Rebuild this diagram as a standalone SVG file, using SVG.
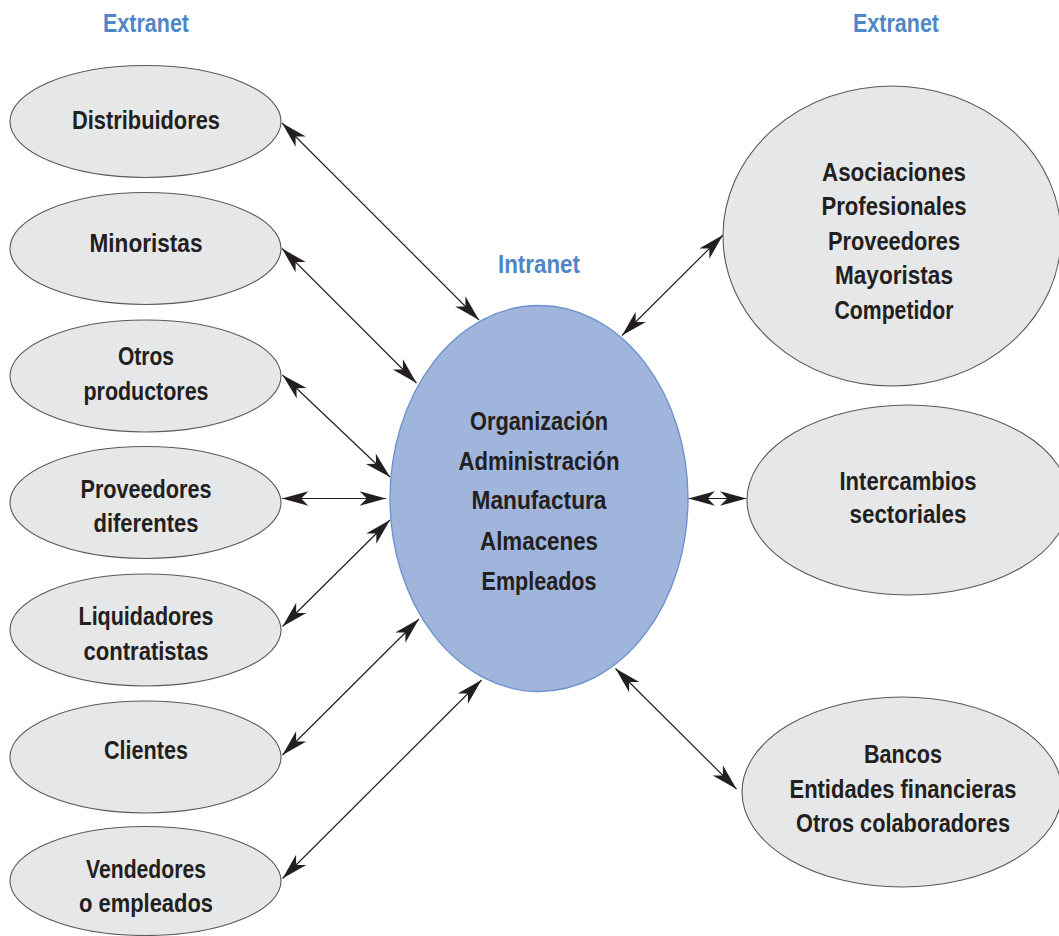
<svg xmlns="http://www.w3.org/2000/svg" width="1059" height="936" viewBox="0 0 1059 936">
<style>
.bg{fill:#ffffff}
.ext{fill:#e6e7e8;stroke:#58595b;stroke-width:1.1}
.core{fill:#a0b5dc;stroke:#6b90cb;stroke-width:1.3}
.t{font-family:"Liberation Sans",Arial,sans-serif;font-weight:bold;font-size:25px;fill:#231f20;text-anchor:middle}
.h{font-family:"Liberation Sans",Arial,sans-serif;font-weight:bold;font-size:25px;fill:#4f86c6;text-anchor:middle}
.c{stroke:#231f20;stroke-width:1.2;fill:none;marker-start:url(#ah);marker-end:url(#ah)}
</style>
<defs>
<marker id="ah" markerUnits="userSpaceOnUse" markerWidth="30" markerHeight="20" viewBox="-23 -8 25 16" refX="0" refY="0" orient="auto-start-reverse">
<path d="M0,0 L-22,-6 L-16,0 L-22,6 Z" fill="#231f20"/>
</marker>
</defs>
<rect class="bg" x="0" y="0" width="1059" height="936"/>

<g id="labels">
<text class="h" x="146" y="31.5" textLength="86" lengthAdjust="spacingAndGlyphs">Extranet</text>
<text class="h" x="896" y="31.5" textLength="86" lengthAdjust="spacingAndGlyphs">Extranet</text>
<text class="h" x="539" y="273" textLength="82" lengthAdjust="spacingAndGlyphs">Intranet</text>
</g>

<g id="connectors">
<line class="c" x1="282" y1="123" x2="479" y2="320"/>
<line class="c" x1="282" y1="248.5" x2="416.5" y2="383"/>
<line class="c" x1="282.5" y1="375" x2="390" y2="477"/>
<line class="c" x1="282" y1="498.5" x2="386" y2="498.5"/>
<line class="c" x1="282.5" y1="626.5" x2="390" y2="520"/>
<line class="c" x1="282.5" y1="755" x2="419" y2="619"/>
<line class="c" x1="282.5" y1="878.5" x2="481.5" y2="680"/>
<line class="c" x1="622" y1="335.5" x2="723" y2="235"/>
<line class="c" x1="688.5" y1="498.5" x2="746.5" y2="498.5"/>
<line class="c" x1="615.5" y1="668.5" x2="736.5" y2="789"/>
</g>

<g id="intranet">
<ellipse class="core" cx="539" cy="498.5" rx="149" ry="193"/>
<text class="t" x="539" y="429.5" textLength="138" lengthAdjust="spacingAndGlyphs">Organización</text>
<text class="t" x="539" y="469.5" textLength="161" lengthAdjust="spacingAndGlyphs">Administración</text>
<text class="t" x="539" y="508.5" textLength="135" lengthAdjust="spacingAndGlyphs">Manufactura</text>
<text class="t" x="539" y="549.5" textLength="118" lengthAdjust="spacingAndGlyphs">Almacenes</text>
<text class="t" x="539" y="589.5" textLength="115" lengthAdjust="spacingAndGlyphs">Empleados</text>
</g>

<g id="distribuidores">
<ellipse class="ext" cx="145.5" cy="121.5" rx="135.5" ry="56"/>
<text class="t" x="146" y="129" textLength="148" lengthAdjust="spacingAndGlyphs">Distribuidores</text>
</g>
<g id="minoristas">
<ellipse class="ext" cx="145.5" cy="248.5" rx="135.5" ry="56"/>
<text class="t" x="146" y="252" textLength="113" lengthAdjust="spacingAndGlyphs">Minoristas</text>
</g>
<g id="otros-productores">
<ellipse class="ext" cx="145.5" cy="376" rx="135.5" ry="56"/>
<text class="t" x="146" y="365" textLength="56" lengthAdjust="spacingAndGlyphs">Otros</text>
<text class="t" x="146" y="400" textLength="125" lengthAdjust="spacingAndGlyphs">productores</text>
</g>
<g id="proveedores-diferentes">
<ellipse class="ext" cx="145.5" cy="502.5" rx="135.5" ry="56"/>
<text class="t" x="146" y="498" textLength="131" lengthAdjust="spacingAndGlyphs">Proveedores</text>
<text class="t" x="146" y="532" textLength="105" lengthAdjust="spacingAndGlyphs">diferentes</text>
</g>
<g id="liquidadores">
<ellipse class="ext" cx="145.5" cy="630" rx="135.5" ry="56"/>
<text class="t" x="146" y="625" textLength="135" lengthAdjust="spacingAndGlyphs">Liquidadores</text>
<text class="t" x="146" y="660" textLength="125" lengthAdjust="spacingAndGlyphs">contratistas</text>
</g>
<g id="clientes">
<ellipse class="ext" cx="145.5" cy="757" rx="135.5" ry="56"/>
<text class="t" x="146" y="759" textLength="84" lengthAdjust="spacingAndGlyphs">Clientes</text>
</g>
<g id="vendedores">
<ellipse class="ext" cx="145.5" cy="881" rx="135.5" ry="54.5"/>
<text class="t" x="146" y="878" textLength="120" lengthAdjust="spacingAndGlyphs">Vendedores</text>
<text class="t" x="146" y="912" textLength="134" lengthAdjust="spacingAndGlyphs">o empleados</text>
</g>

<g id="asociaciones">
<ellipse class="ext" cx="892" cy="236" rx="169" ry="150"/>
<text class="t" x="894" y="180.5" textLength="144" lengthAdjust="spacingAndGlyphs">Asociaciones</text>
<text class="t" x="894" y="215" textLength="145" lengthAdjust="spacingAndGlyphs">Profesionales</text>
<text class="t" x="894" y="249.5" textLength="132" lengthAdjust="spacingAndGlyphs">Proveedores</text>
<text class="t" x="894" y="284" textLength="118" lengthAdjust="spacingAndGlyphs">Mayoristas</text>
<text class="t" x="894" y="318.5" textLength="119" lengthAdjust="spacingAndGlyphs">Competidor</text>
</g>
<g id="intercambios">
<ellipse class="ext" cx="908" cy="500" rx="161" ry="95"/>
<text class="t" x="908" y="490" textLength="137" lengthAdjust="spacingAndGlyphs">Intercambios</text>
<text class="t" x="908" y="523" textLength="117" lengthAdjust="spacingAndGlyphs">sectoriales</text>
</g>
<g id="bancos">
<ellipse class="ext" cx="902" cy="792" rx="160" ry="95"/>
<text class="t" x="903" y="763" textLength="78" lengthAdjust="spacingAndGlyphs">Bancos</text>
<text class="t" x="903" y="798" textLength="227" lengthAdjust="spacingAndGlyphs">Entidades financieras</text>
<text class="t" x="903" y="832" textLength="214" lengthAdjust="spacingAndGlyphs">Otros colaboradores</text>
</g>
</svg>
